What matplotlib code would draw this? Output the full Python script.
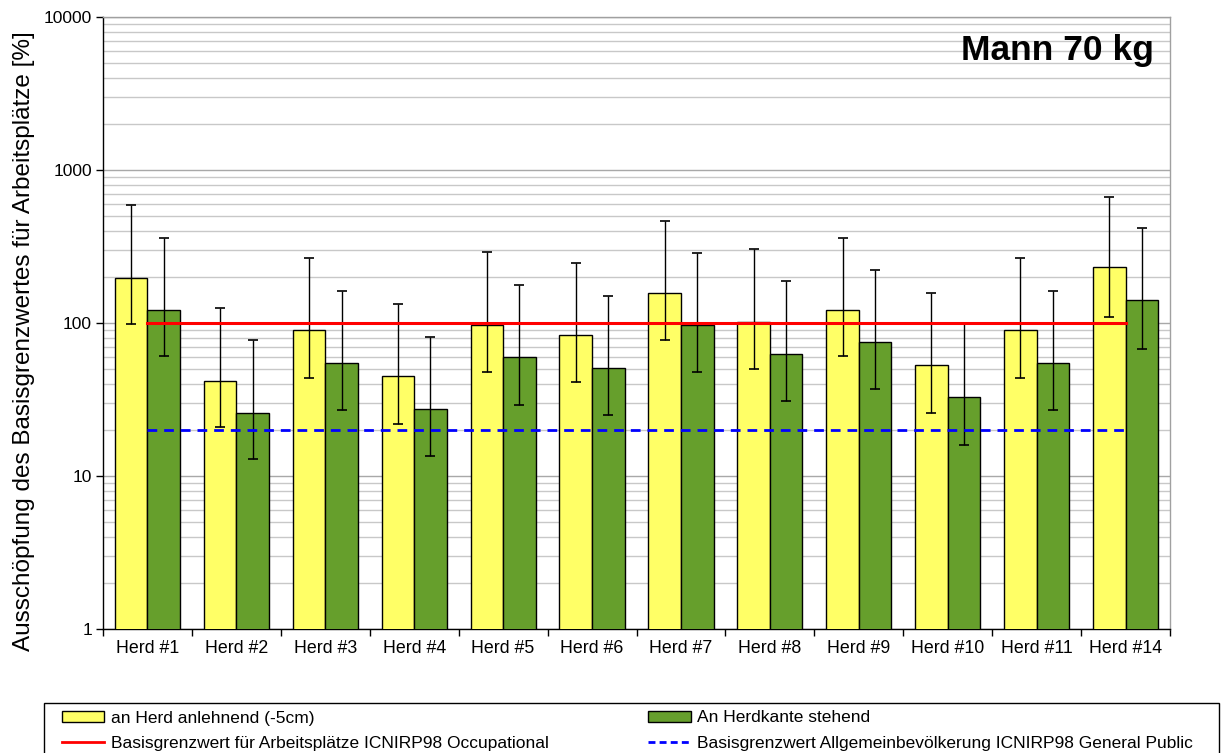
import matplotlib
matplotlib.use("Agg")
import matplotlib.pyplot as plt
from matplotlib.lines import Line2D
from matplotlib.patches import Patch, Rectangle
from matplotlib.ticker import LogLocator, NullFormatter, FixedLocator, FixedFormatter
import numpy as np

plt.rcParams['font.family'] = ['Liberation Sans', 'DejaVu Sans']

categories = ["Herd #1", "Herd #2", "Herd #3", "Herd #4", "Herd #5", "Herd #6",
              "Herd #7", "Herd #8", "Herd #9", "Herd #10", "Herd #11", "Herd #14"]

# an Herd anlehnend (-5cm)
lean = [198, 42, 90, 45, 97, 83, 157, 102, 122, 53, 90, 231]
lean_hi = [590, 125, 265, 133, 290, 247, 465, 305, 362, 157, 265, 670]
lean_lo = [99, 21, 44, 22, 48, 41, 78, 50, 61, 26, 44, 109]

# An Herdkante stehend
stand = [122, 26, 55, 27.5, 60, 51, 97, 63, 75, 33, 55, 142]
stand_hi = [362, 77, 163, 81, 177, 151, 288, 188, 223, 98, 163, 415]
stand_lo = [61, 13, 27, 13.5, 29, 25, 48, 31, 37, 16, 27, 68]

limit_occupational = 100
limit_public = 20

y_ticks = [1, 10, 100, 1000, 10000]
y_tick_labels = ["1", "10", "100", "1000", "10000"]

yellow = "#FFFF66"
green = "#669F2C"

W, H = 1222, 753
fig = plt.figure(figsize=(W / 100, H / 100), dpi=100)
ax = fig.add_axes([103 / W, 1 - 629 / H, (1170 - 103) / W, (629 - 17) / H])

x = np.arange(len(categories))
w = 0.366

def err(vals, lo, hi):
    v = np.asarray(vals, float)
    return np.vstack([v - np.asarray(lo, float), np.asarray(hi, float) - v])

ax.bar(x - w / 2, lean, width=w, color=yellow, edgecolor="black", linewidth=1, zorder=3)
ax.bar(x + w / 2, stand, width=w, color=green, edgecolor="black", linewidth=1, zorder=3)
ax.errorbar(x - w / 2, lean, yerr=err(lean, lean_lo, lean_hi), fmt="none",
            ecolor="black", elinewidth=1, capsize=3.4, capthick=1.2, zorder=4)
ax.errorbar(x + w / 2, stand, yerr=err(stand, stand_lo, stand_hi), fmt="none",
            ecolor="black", elinewidth=1, capsize=3.4, capthick=1.2, zorder=4)

ax.plot([x[0], x[-1]], [limit_occupational] * 2, color="#FF0000", linewidth=2.2, zorder=5)
ax.plot([x[0], x[-1]], [limit_public] * 2, color="#0000FF", linewidth=2,
        linestyle=(0, (3.5, 2.5)), zorder=5)

ax.set_yscale("log")
ax.set_ylim(1, 10000)
ax.set_xlim(-0.5, len(categories) - 0.5)

ax.yaxis.set_major_locator(FixedLocator(y_ticks))
ax.yaxis.set_major_formatter(FixedFormatter(y_tick_labels))
ax.yaxis.set_minor_locator(LogLocator(base=10, subs=np.arange(2, 10), numticks=20))
ax.yaxis.set_minor_formatter(NullFormatter())
ax.tick_params(axis="y", which="major", direction="out", length=5, width=1,
               labelsize=12.5, pad=3)
ax.tick_params(axis="y", which="minor", length=0)

ax.set_xticks(np.arange(len(categories) + 1) - 0.5)
ax.set_xticklabels([])
ax.set_xticks(x, minor=True)
ax.set_xticklabels(categories, minor=True)
ax.tick_params(axis="x", which="major", direction="out", length=5, width=1)
ax.tick_params(axis="x", which="minor", length=0, labelsize=12.8, pad=8)

ax.grid(True, which="major", axis="y", color="#A8A8A8", linewidth=1, zorder=0)
ax.grid(True, which="minor", axis="y", color="#C8C8C8", linewidth=1, zorder=0)
ax.set_axisbelow(True)

for s in ("left", "bottom"):
    ax.spines[s].set_color("black")
    ax.spines[s].set_linewidth(1)
for s in ("top", "right"):
    ax.spines[s].set_color("#A0A0A0")
    ax.spines[s].set_linewidth(1)

ax.set_ylabel("Ausschöpfung des Basisgrenzwertes für Arbeitsplätze [%]", fontsize=17.5)
ax.yaxis.set_label_coords(-0.074, 0.47)
ax.yaxis.label.set_va("center")

ax.text(0.985, 0.945, "Mann 70 kg", transform=ax.transAxes, ha="right", va="center",
        fontsize=25.5, fontweight="bold")

# Legend: two columns placed side by side inside a shared frame
legend_kw = dict(frameon=False, fontsize=12.5, loc="upper left",
                 handlelength=2.45, handleheight=0.55, handletextpad=0.4,
                 labelspacing=0.6, borderpad=0, borderaxespad=0)
fig.legend([Patch(facecolor=yellow, edgecolor="black", linewidth=1),
            Line2D([], [], color="#FF0000", linewidth=2)],
           ["an Herd anlehnend (-5cm)",
            "Basisgrenzwert für Arbeitsplätze ICNIRP98 Occupational"],
           bbox_to_anchor=(61.5 / W, 1 - 710.5 / H), **legend_kw)
fig.legend([Patch(facecolor=green, edgecolor="black", linewidth=1),
            Line2D([], [], color="#0000FF", linewidth=2, linestyle=(0, (2.5, 1.5)))],
           ["An Herdkante stehend",
            "Basisgrenzwert Allgemeinbevölkerung ICNIRP98 General Public"],
           bbox_to_anchor=(648 / W, 1 - 710.5 / H), **legend_kw)
fig.patches.append(Rectangle((44 / W, -0.05), (1219 - 44) / W, 0.05 + (H - 702.5) / H,
                             transform=fig.transFigure, fill=False,
                             edgecolor="black", linewidth=1))

fig.savefig("out.png", dpi=100)
